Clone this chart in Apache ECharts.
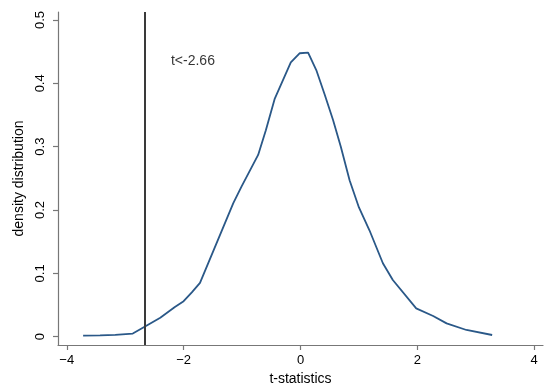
<!DOCTYPE html>
<html>
<head>
<meta charset="utf-8">
<script src="https://cdn.jsdelivr.net/npm/echarts@6/dist/echarts.min.js"></script>
<style>
html,body{margin:0;padding:0;background:#fff;}
#chart{width:550px;height:392px;}
</style>
</head>
<body>
<div id="chart"></div>
<script>
// t-statistic values (x) and density (y)
const tValues = [-3.72, -3.43, -3.17, -2.87, -2.66, -2.40, -2.15, -2.00, -1.86, -1.72, -1.15, -1.01, -0.725, -0.593, -0.44, -0.166, -0.012, 0.13, 0.27, 0.415, 0.557, 0.69, 0.84, 1.00, 1.18, 1.41, 1.58, 1.98, 2.27, 2.50, 2.84, 3.28];
const density = [0.0016, 0.002, 0.003, 0.005, 0.016, 0.030, 0.047, 0.056, 0.070, 0.085, 0.211, 0.237, 0.287, 0.326, 0.376, 0.433, 0.4475, 0.4485, 0.421, 0.382, 0.342, 0.300, 0.247, 0.204, 0.168, 0.116, 0.0895, 0.0448, 0.0327, 0.021, 0.0106, 0.0027];
const xTicks = [-4, -2, 0, 2, 4];
const yTicks = [0, 0.1, 0.2, 0.3, 0.4, 0.5];
const cutoff = -2.66;
const cutoffLabel = 't<-2.66';
const cutoffLabelPos = [-2.217, 0.435];
const xTitle = 't-statistics';
const yTitle = 'density distribution';

const axisColor = '#777777';
const chart = echarts.init(document.getElementById('chart'), null, {renderer: 'canvas'});
chart.setOption({
  animation: false,
  backgroundColor: '#ffffff',
  grid: {left: 58, right: 7, top: 12, bottom: 47, containLabel: false},
  xAxis: {
    type: 'value', min: -4.15, max: 4.15,
    name: xTitle, nameLocation: 'middle', nameGap: 22,
    nameTextStyle: {fontFamily: 'Liberation Sans', fontSize: 14, color: '#000'},
    axisLine: {show: true, onZero: false, lineStyle: {color: axisColor, width: 1.2}},
    axisTick: {show: true, length: 5, customValues: xTicks, lineStyle: {color: axisColor, width: 1.2}},
    axisLabel: {customValues: xTicks, margin: 9, fontFamily: 'Liberation Sans', fontSize: 13, color: '#000',
      formatter: v => String(v).replace('-', '\u2212')},
    splitLine: {show: false}
  },
  yAxis: {
    type: 'value', min: -0.0131, max: 0.5126,
    name: yTitle, nameLocation: 'middle', nameGap: 26,
    nameTextStyle: {fontFamily: 'Liberation Sans', fontSize: 14, color: '#000'},
    axisLine: {show: true, onZero: false, lineStyle: {color: axisColor, width: 1.2}},
    axisTick: {show: true, length: 5, customValues: yTicks, lineStyle: {color: axisColor, width: 1.2}},
    axisLabel: {customValues: yTicks, rotate: 90, margin: 11, fontFamily: 'Liberation Sans', fontSize: 13, color: '#000',
      formatter: v => String(v)},
    splitLine: {show: false}
  },
  series: [
    {
      type: 'line',
      data: tValues.map((t, i) => [t, density[i]]),
      symbol: 'none',
      lineStyle: {color: '#2a5888', width: 1.8},
      z: 3,
      markLine: {
        silent: true, symbol: 'none', label: {show: false},
        lineStyle: {color: '#3a3a3a', width: 2, type: 'solid'},
        data: [{xAxis: cutoff}]
      }
    },
    {
      type: 'scatter',
      data: [cutoffLabelPos],
      symbolSize: 0,
      label: {show: true, position: 'right', distance: 0, formatter: cutoffLabel,
        fontFamily: 'Liberation Sans', fontSize: 14, color: '#000'}
    }
  ]
});
</script>
</body>
</html>
